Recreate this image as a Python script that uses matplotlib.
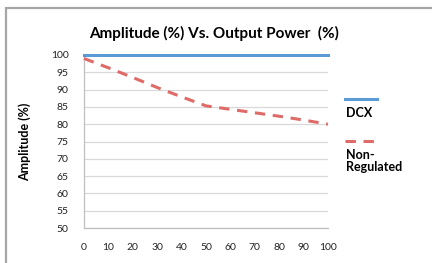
import matplotlib
matplotlib.use('Agg')
import matplotlib.pyplot as plt
from matplotlib.patches import Rectangle


# ---------------------------------------------------
# DATOS
# ---------------------------------------------------
OUTPUT_POWER = [0, 10, 20, 30, 40, 50, 60, 70, 80, 90, 100]
DCX = [100, 100, 100, 100, 100, 100, 100, 100, 100, 100, 100]
NON_REGULATED = [99, 96.3, 93.5, 90.6, 87.9, 85.3, 84.3, 83.3, 82.3, 81.2, 80]
Y_TICKS = [50, 55, 60, 65, 70, 75, 80, 85, 90, 95, 100]
X_TICKS = [0, 10, 20, 30, 40, 50, 60, 70, 80, 90, 100]
# ---------------------------------------------------

FONT = 'Lato'
BLUE = '#5B9BD5'
RED = '#DE6B68'
GRID = '#D9D9D9'
DASH = (3.4, 2.5)


def main():
    fig = plt.figure(figsize=(4.32, 2.63), dpi=100)
    W, H = 432, 263

    # marco del grafico (recortado por el borde de la imagen)
    fig.add_artist(Rectangle((6 / W, -0.5), 2.0, 1 - 8 / H + 0.5, transform=fig.transFigure,
                             fill=False, edgecolor='#A6A6A6', linewidth=1.6))

    ax = fig.add_axes([84 / W, 1 - 228 / H, (328 - 84) / W, (228 - 55) / H])
    ax.plot(OUTPUT_POWER, DCX, color=BLUE, linewidth=2.2, clip_on=False, zorder=3)
    ax.plot(OUTPUT_POWER, NON_REGULATED, color=RED, linewidth=2.2, dashes=DASH,
            clip_on=False, zorder=3)

    ax.set_xlim(0, 100)
    ax.set_ylim(50, 100)
    ax.set_yticks(Y_TICKS)
    ax.set_xticks(X_TICKS)
    ax.grid(True, axis='y', color=GRID, linewidth=0.9)
    ax.set_axisbelow(True)
    for s in ['top', 'right']:
        ax.spines[s].set_visible(False)
    for s in ['left', 'bottom']:
        ax.spines[s].set_color('#BFBFBF')
        ax.spines[s].set_linewidth(0.9)
    ax.tick_params(length=0, labelsize=7.5, colors='#222222')
    ax.tick_params(axis='x', pad=11)
    ax.tick_params(axis='y', pad=11)
    for lbl in ax.get_xticklabels() + ax.get_yticklabels():
        lbl.set_fontfamily(FONT)

    ax.set_ylabel('Amplitude (%)', fontsize=9, fontweight='bold', fontfamily=FONT)
    ax.yaxis.set_label_coords(-0.215, 0.5)

    fig.text(214 / W, 1 - 33 / H, 'Amplitude (%) Vs. Output Power  (%)', ha='center', va='center',
             fontsize=11, fontweight='bold', fontfamily=FONT)

    # leyenda estilo Excel: linea encima del texto
    fig.add_artist(plt.Line2D([345 / W, 377 / W], [1 - 99 / H, 1 - 99 / H], color=BLUE,
                              linewidth=2.2, transform=fig.transFigure))
    fig.text(346 / W, 1 - 113 / H, 'DCX', fontsize=9, fontweight='bold', fontfamily=FONT,
             va='center', ha='left')
    fig.add_artist(plt.Line2D([345 / W, 375 / W], [1 - 141 / H, 1 - 141 / H], color=RED,
                              linewidth=2.2, dashes=DASH, transform=fig.transFigure))
    fig.text(346 / W, 1 - 161 / H, 'Non-\nRegulated', fontsize=9, fontweight='bold',
             fontfamily=FONT, va='center', ha='left', linespacing=1.0)

    fig.savefig('out.png', dpi=100)


if __name__ == '__main__':
    main()
